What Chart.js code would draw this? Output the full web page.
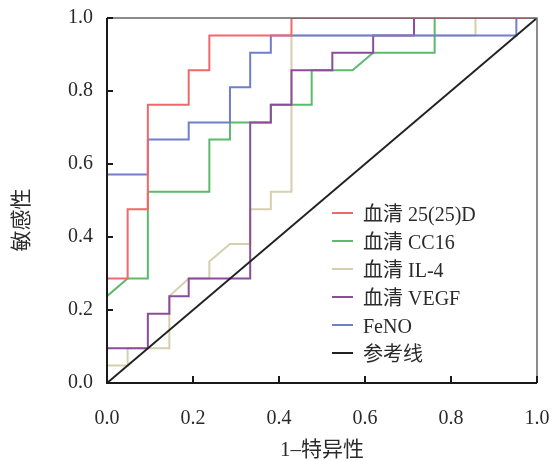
<!DOCTYPE html>
<html>
<head>
<meta charset="utf-8">
<script src="https://cdn.jsdelivr.net/npm/chart.js@4.4.1/dist/chart.umd.min.js"></script>
<style>
    html, body { margin: 0; padding: 0; background: #fff; }
    #wrap { width: 555px; height: 461px; position: relative; }
</style>
</head>
<body>
<div id="wrap"><canvas id="roc"></canvas></div>
<script>
// DATA (1-specificity, sensitivity)
const LABELS = ['血清 25(25)D', '血清 CC16', '血清 IL-4', '血清 VEGF', 'FeNO', '参考线'];

const FPR_25D = [0, 0, 0.048, 0.048, 0.095, 0.095, 0.19, 0.19, 0.238, 0.238, 0.429, 0.429, 1];
const TPR_25D = [0, 0.286, 0.286, 0.476, 0.476, 0.762, 0.762, 0.857, 0.857, 0.952, 0.952, 1, 1];

const FPR_CC16 = [0, 0, 0.048, 0.095, 0.095, 0.238, 0.238, 0.286, 0.286, 0.381, 0.381, 0.476, 0.476, 0.571, 0.619, 0.762, 0.762, 1];
const TPR_CC16 = [0, 0.238, 0.286, 0.286, 0.524, 0.524, 0.667, 0.667, 0.714, 0.714, 0.762, 0.762, 0.857, 0.857, 0.905, 0.905, 1, 1];

const FPR_IL4 = [0, 0, 0.048, 0.048, 0.145, 0.145, 0.19, 0.238, 0.238, 0.286, 0.333, 0.333, 0.381, 0.381, 0.429, 0.429, 0.857, 0.857, 1];
const TPR_IL4 = [0, 0.048, 0.048, 0.095, 0.095, 0.238, 0.286, 0.286, 0.333, 0.381, 0.381, 0.476, 0.476, 0.524, 0.524, 0.952, 0.952, 1, 1];

const FPR_VEGF = [0, 0, 0.095, 0.095, 0.145, 0.145, 0.19, 0.19, 0.333, 0.333, 0.381, 0.381, 0.429, 0.429, 0.524, 0.524, 0.619, 0.619, 0.714, 0.714, 1];
const TPR_VEGF = [0, 0.095, 0.095, 0.19, 0.19, 0.238, 0.238, 0.286, 0.286, 0.714, 0.714, 0.762, 0.762, 0.857, 0.857, 0.905, 0.905, 0.952, 0.952, 1, 1];

const FPR_FENO = [0, 0, 0.095, 0.095, 0.19, 0.19, 0.286, 0.286, 0.333, 0.333, 0.381, 0.381, 0.952, 0.952, 1];
const TPR_FENO = [0, 0.571, 0.571, 0.667, 0.667, 0.714, 0.714, 0.81, 0.81, 0.905, 0.905, 0.952, 0.952, 1, 1];

const FPR_REF = [0, 1];
const TPR_REF = [0, 1];

const TICKS = [0, 0.2, 0.4, 0.6, 0.8, 1.0];

const COLORS = ['rgb(240,104,108)', 'rgb(92,186,108)', 'rgb(214,207,174)', 'rgb(140,76,156)', 'rgb(112,126,206)', '#222'];
const DRAW_ORDER = [1, 4, 5, 3, 2, 0]; // lower = on top

const FONT_LATIN = "'Liberation Serif', 'Noto Sans CJK SC', serif";
const TEXT_COLOR = '#2a2a2a';

// CHART AREA (px)
const AREA = { left: 107, top: 18, right: 537, bottom: 383 };

function toPoints(xs, ys) {
    return xs.map((x, i) => ({ x: x, y: ys[i] }));
}

const series = [
    [FPR_25D, TPR_25D], [FPR_CC16, TPR_CC16], [FPR_IL4, TPR_IL4],
    [FPR_VEGF, TPR_VEGF], [FPR_FENO, TPR_FENO], [FPR_REF, TPR_REF]
];

const datasets = series.map((s, i) => ({
    label: LABELS[i],
    data: toPoints(s[0], s[1]),
    borderColor: COLORS[i],
    backgroundColor: COLORS[i],
    borderWidth: 2,
    pointRadius: 0,
    showLine: true,
    tension: 0,
    order: DRAW_ORDER[i]
}));

// --- FRAME, INWARD TICKS, TITLES, LEGEND ---
const decorPlugin = {
    id: 'decor',
    afterDatasetsDraw(chart) {
        const ctx = chart.ctx;
        const a = chart.chartArea;
        const xs = chart.scales.x;
        const ys = chart.scales.y;
        ctx.save();

        // top and right frame
        ctx.strokeStyle = '#666';
        ctx.lineWidth = 1.5;
        ctx.beginPath();
        ctx.moveTo(a.left, a.top);
        ctx.lineTo(a.right, a.top);
        ctx.lineTo(a.right, a.bottom);
        ctx.stroke();

        // left and bottom axes
        ctx.strokeStyle = '#1a1a1a';
        ctx.lineWidth = 2;
        ctx.beginPath();
        ctx.moveTo(a.left, a.top);
        ctx.lineTo(a.left, a.bottom);
        ctx.lineTo(a.right, a.bottom);
        ctx.stroke();

        // inward ticks
        TICKS.forEach(t => {
            const py = ys.getPixelForValue(t);
            ctx.beginPath();
            ctx.moveTo(a.left, py);
            ctx.lineTo(a.left + 6, py);
            ctx.stroke();
            const px = xs.getPixelForValue(t);
            ctx.beginPath();
            ctx.moveTo(px, a.bottom);
            ctx.lineTo(px, a.bottom - 7);
            ctx.stroke();
        });

        // axis titles
        ctx.fillStyle = TEXT_COLOR;
        ctx.font = "21px " + FONT_LATIN;
        ctx.textAlign = 'center';
        ctx.textBaseline = 'middle';
        ctx.fillText('1–特异性', (a.left + a.right) / 2, 450);

        ctx.save();
        ctx.translate(22, 220);
        ctx.rotate(-Math.PI / 2);
        ctx.fillText('敏感性', 0, 0);
        ctx.restore();

        // legend inside plot
        ctx.textAlign = 'left';
        ctx.font = "20px " + FONT_LATIN;
        chart.data.datasets.forEach((ds, i) => {
            const y = 213 + i * 28;
            ctx.strokeStyle = ds.borderColor;
            ctx.lineWidth = 2;
            ctx.beginPath();
            ctx.moveTo(332, y);
            ctx.lineTo(353, y);
            ctx.stroke();
            ctx.fillStyle = TEXT_COLOR;
            ctx.fillText(ds.label, 363, y + 3);
        });

        ctx.restore();
    }
};

const ctx = document.getElementById('roc').getContext('2d');

new Chart(ctx, {
    type: 'scatter',
    data: { datasets: datasets },
    options: {
        responsive: true,
        maintainAspectRatio: false,
        animation: false,
        layout: { padding: { top: AREA.top, right: 555 - AREA.right, left: 0, bottom: 0 } },
        plugins: {
            legend: { display: false },
            tooltip: { enabled: false }
        },
        scales: {
            x: {
                type: 'linear',
                min: 0,
                max: 1,
                afterBuildTicks: s => { s.ticks = TICKS.map(v => ({ value: v })); },
                afterFit: s => {
                    s.height = 461 - AREA.bottom;
                    s.paddingLeft = 0;
                    s.paddingRight = 0;
                },
                grid: { display: false, drawTicks: false },
                border: { display: false },
                ticks: {
                    padding: 24,
                    color: TEXT_COLOR,
                    font: { family: FONT_LATIN, size: 20 },
                    callback: v => v.toFixed(1)
                }
            },
            y: {
                type: 'linear',
                min: 0,
                max: 1,
                afterBuildTicks: s => { s.ticks = TICKS.map(v => ({ value: v })); },
                afterFit: s => {
                    s.width = AREA.left;
                    s.paddingTop = 0;
                    s.paddingBottom = 0;
                },
                grid: { display: false, drawTicks: false },
                border: { display: false },
                ticks: {
                    padding: 14,
                    color: TEXT_COLOR,
                    font: { family: FONT_LATIN, size: 20 },
                    callback: v => v.toFixed(1)
                }
            }
        }
    },
    plugins: [decorPlugin]
});
</script>
</body>
</html>
